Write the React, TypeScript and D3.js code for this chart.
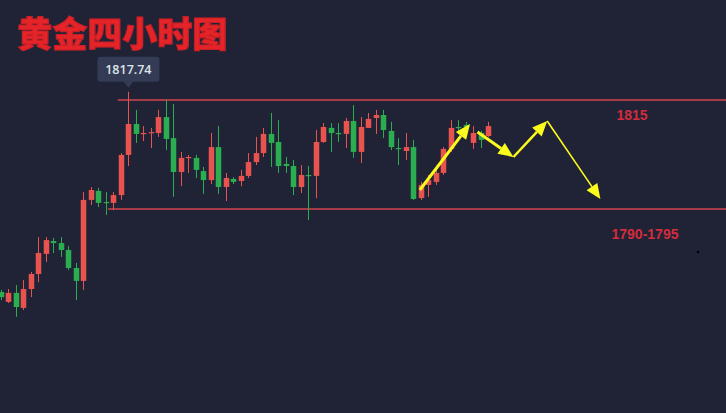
import React from "react";
import * as d3 from "d3";

// 4h gold candles
const opens = [
  1751.0, 1747.7, 1750.7, 1745.7, 1752.0, 1757.0, 1763.7, 1768.0, 1767.3, 1765.0,
  1759.0, 1754.7, 1781.7, 1784.7, 1781.0, 1780.7, 1783.3, 1796.7, 1807.0, 1803.7,
  1804.0, 1804.0, 1809.3, 1802.3, 1791.0, 1795.7, 1795.7, 1791.3, 1788.3, 1799.3,
  1786.0, 1788.7, 1788.0, 1789.7, 1794.3, 1797.3, 1803.7, 1801.0, 1793.7, 1793.0,
  1786.0, 1790.0, 1789.7, 1801.0, 1805.7, 1804.0, 1803.7, 1808.0, 1797.7, 1805.7,
  1809.0, 1810.0, 1804.7, 1799.0, 1798.0, 1799.3, 1782.3, 1786.7, 1787.7, 1790.7,
  1798.7, 1806.0, 1806.7, 1800.7, 1804.0, 1803.0,
];
const highs = [
  1751.7, 1752.0, 1753.3, 1755.0, 1757.7, 1769.3, 1769.3, 1769.0, 1769.3, 1766.3,
  1760.7, 1784.3, 1786.0, 1785.7, 1784.3, 1784.3, 1797.3, 1817.74, 1811.7, 1806.3,
  1805.7, 1811.7, 1815.0, 1813.7, 1797.7, 1796.7, 1796.7, 1792.7, 1804.0, 1806.3,
  1790.7, 1789.3, 1791.7, 1797.3, 1802.7, 1805.7, 1810.7, 1808.3, 1796.0, 1795.0,
  1793.3, 1793.0, 1805.0, 1807.3, 1807.3, 1807.3, 1809.0, 1813.3, 1809.3, 1810.7,
  1811.7, 1811.7, 1807.7, 1802.3, 1804.0, 1801.7, 1787.7, 1790.0, 1791.7, 1799.3,
  1808.3, 1808.3, 1807.7, 1806.3, 1804.7, 1807.7,
];
const lows = [
  1748.3, 1747.3, 1742.7, 1745.0, 1749.3, 1754.3, 1761.0, 1764.0, 1762.7, 1758.3,
  1748.3, 1751.7, 1780.0, 1779.3, 1776.7, 1778.3, 1781.7, 1793.0, 1800.7, 1801.3,
  1799.0, 1802.7, 1798.3, 1782.7, 1786.3, 1790.7, 1789.0, 1783.7, 1787.0, 1783.7,
  1781.3, 1787.0, 1786.3, 1789.0, 1793.3, 1796.0, 1792.7, 1790.7, 1790.7, 1783.3,
  1784.0, 1775.0, 1782.3, 1800.7, 1797.7, 1801.0, 1799.0, 1795.7, 1794.0, 1805.7,
  1803.7, 1802.3, 1798.3, 1793.3, 1795.0, 1781.7, 1781.7, 1782.7, 1786.7, 1790.0,
  1797.7, 1804.0, 1805.0, 1798.7, 1799.0, 1802.7,
];
const closes = [
  1749.3, 1750.7, 1746.0, 1752.0, 1757.0, 1764.0, 1768.3, 1767.3, 1765.0, 1759.0,
  1754.7, 1781.7, 1785.0, 1780.7, 1780.7, 1783.3, 1796.7, 1807.0, 1803.7, 1804.0,
  1804.3, 1809.3, 1802.0, 1791.0, 1795.7, 1796.0, 1791.7, 1788.3, 1799.3, 1786.0,
  1789.0, 1787.7, 1789.7, 1794.3, 1797.3, 1803.7, 1800.7, 1793.0, 1793.0, 1786.0,
  1790.0, 1789.7, 1801.0, 1806.0, 1804.0, 1803.7, 1808.0, 1797.7, 1806.0, 1808.7,
  1810.0, 1805.0, 1799.3, 1798.7, 1799.3, 1782.0, 1786.7, 1788.3, 1790.7, 1798.7,
  1805.7, 1805.7, 1806.0, 1804.0, 1801.7, 1806.3,
];

// range lines: price level, bar index where the line starts, label
const levelPrices = [1815, 1778.7];
const levelStarts = [15.6, 14.3];
const levelLabels = ["1815", "1790-1795"];

// forecast arrows in [bar index, price]
const arrowFrom = [[55.9, 1785.0], [63.6, 1804.3], [68.4, 1796.0], [72.9, 1808.0]];
const arrowTo = [[62.6, 1807.0], [68.4, 1796.0], [72.9, 1808.0], [80.0, 1782.0]];
const arrowWidths = [3, 3, 2.5, 1.6];

const W = 726;
const H = 413;
const UP = "#e9534f";
const DOWN = "#2aae4f";

export default function App() {
  const x = d3.scaleLinear().domain([0, opens.length - 1]).range([1, 488]);
  const y = d3.scaleLinear().domain([1715, 1815]).range([400, 100]);

  const maxHigh = d3.max(highs)!;
  const maxIdx = highs.indexOf(maxHigh);
  const mx = x(maxIdx);
  const my = y(maxHigh);

  return (
    <svg
      width={W}
      height={H}
      style={{ position: "fixed", left: 0, top: 0 }}
      fontFamily="'Liberation Sans', Arial, sans-serif"
    >
      <rect width={W} height={H} fill="#1f2335" />

      {levelPrices.map((p, i) => (
        <line
          key={"lv" + i}
          x1={x(levelStarts[i])}
          x2={W}
          y1={y(p)}
          y2={y(p)}
          stroke="#d2444e"
          strokeWidth={1.5}
        />
      ))}

      {opens.map((o, i) => {
        const c = closes[i];
        const col = c >= o ? UP : DOWN;
        const cx = Math.round(x(i)) + 0.5;
        const top = y(Math.max(o, c));
        const bot = y(Math.min(o, c));
        return (
          <g key={i}>
            <line x1={cx} x2={cx} y1={y(highs[i])} y2={y(lows[i])} stroke={col} strokeWidth={1} />
            <rect x={cx - 2.75} y={top} width={5.5} height={Math.max(1.2, bot - top)} fill={col} />
          </g>
        );
      })}

      {/* max price tag */}
      <g>
        <rect x={mx - 31} y={my - 35} width={62} height={25} rx={3} fill="#333c54" />
        <path d={`M${mx - 5},${my - 10.5} L${mx + 5},${my - 10.5} L${mx},${my - 4} Z`} fill="#333c54" />
        <text
          x={mx}
          y={my - 18}
          textAnchor="middle"
          fontSize={12.5}
          fontWeight={600}
          fill="#dfe3ea"
          fontFamily="'Open Sans', 'Noto Sans', sans-serif"
        >
          {maxHigh.toFixed(2)}
        </text>
      </g>

      {arrowFrom.map((f, i) => {
        const x1 = x(f[0]);
        const y1 = y(f[1]);
        const x2 = x(arrowTo[i][0]);
        const y2 = y(arrowTo[i][1]);
        const len = Math.hypot(x2 - x1, y2 - y1);
        const ux = (x2 - x1) / len;
        const uy = (y2 - y1) / len;
        const hl = 15;
        const hw = 6.5;
        const bx = x2 - ux * hl;
        const by = y2 - uy * hl;
        return (
          <g key={"ar" + i}>
            <line x1={x1} y1={y1} x2={bx} y2={by} stroke="#fbfb1e" strokeWidth={arrowWidths[i]} />
            <path
              d={`M${x2},${y2} L${bx - uy * hw},${by + ux * hw} L${bx + uy * hw},${by - ux * hw} Z`}
              fill="#fbfb1e"
            />
          </g>
        );
      })}

      <text x={632} y={120} textAnchor="middle" fontSize={14} fontWeight="bold" fill="#d42b3d">
        {levelLabels[0]}
      </text>
      <text x={645} y={239} textAnchor="middle" fontSize={14} fontWeight="bold" fill="#d42b3d">
        {levelLabels[1]}
      </text>

      <circle cx={698} cy={252} r={1.2} fill="#000" />

      <text
        x={17}
        y={47}
        fontSize={35}
        fontWeight={900}
        fill="#e5242a"
        stroke="#c81f25"
        strokeWidth={1}
        fontFamily="'Noto Sans CJK SC', sans-serif"
      >
        黄金四小时图
      </text>
    </svg>
  );
}
